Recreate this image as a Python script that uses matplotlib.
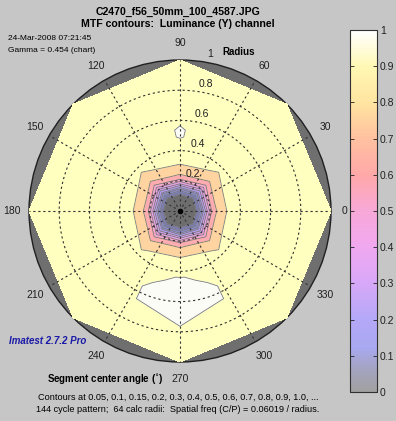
import numpy as np
import matplotlib
matplotlib.use('Agg')
import matplotlib.pyplot as plt
from matplotlib.colors import ListedColormap, BoundaryNorm, LinearSegmentedColormap, Normalize
from matplotlib.patches import Circle
import matplotlib.colorbar as mcolorbar

plt.rcParams['font.family'] = ['Liberation Sans', 'DejaVu Sans']

# segment center angles (deg) and calc radii
angles = [0, 45, 90, 135, 180, 225, 270, 315]
radii = [0, 0.08, 0.12, 0.14, 0.16, 0.18, 0.21, 0.25, 0.3, 0.35, 0.4,
         0.45, 0.5, 0.55, 0.6, 0.7, 0.8, 0.9, 1.0]

# MTF values, one row per angle, one column per radius
mtf = [
    [0.0, 0.02, 0.06, 0.12, 0.22, 0.40, 0.60, 0.72, 0.79, 0.84, 0.85, 0.86, 0.86, 0.87, 0.87, 0.86, 0.85, 0.85, 0.84],
    [0.0, 0.02, 0.05, 0.09, 0.15, 0.25, 0.45, 0.64, 0.75, 0.79, 0.83, 0.85, 0.86, 0.86, 0.86, 0.86, 0.85, 0.84, 0.84],
    [0.0, 0.02, 0.06, 0.12, 0.22, 0.40, 0.60, 0.72, 0.79, 0.84, 0.86, 0.895, 0.903, 0.904, 0.89, 0.87, 0.86, 0.85, 0.84],
    [0.0, 0.02, 0.05, 0.09, 0.15, 0.25, 0.45, 0.64, 0.75, 0.79, 0.83, 0.85, 0.86, 0.86, 0.86, 0.86, 0.85, 0.84, 0.84],
    [0.0, 0.02, 0.06, 0.12, 0.22, 0.40, 0.60, 0.72, 0.79, 0.84, 0.85, 0.86, 0.86, 0.87, 0.87, 0.86, 0.85, 0.85, 0.84],
    [0.0, 0.02, 0.05, 0.09, 0.15, 0.25, 0.45, 0.64, 0.75, 0.79, 0.83, 0.85, 0.85, 0.855, 0.865, 0.875, 0.86, 0.84, 0.84],
    [0.0, 0.02, 0.06, 0.12, 0.22, 0.40, 0.60, 0.72, 0.79, 0.85, 0.88, 0.905, 0.92, 0.94, 0.95, 0.935, 0.88, 0.86, 0.85],
    [0.0, 0.02, 0.05, 0.09, 0.15, 0.25, 0.45, 0.64, 0.75, 0.79, 0.83, 0.85, 0.85, 0.855, 0.865, 0.875, 0.86, 0.84, 0.84],
]

levels = [0, 0.05, 0.1, 0.15, 0.2, 0.3, 0.4, 0.5, 0.6, 0.7, 0.8, 0.9, 1.0]
band_colors = ['#6e6e6e', '#7c7ca8', '#8a8ad0', '#9c94e0', '#b09cf0', '#d0a0f0',
               '#e8a0e8', '#f8a8d0', '#ffacb0', '#ffd4a0', '#ffffc0', '#fcfcf6']

bar_ticks = [0, 0.1, 0.2, 0.3, 0.4, 0.5, 0.6, 0.7, 0.8, 0.9, 1]
bar_colors = [(0.0, '#a0a0a0'), (0.06, '#a4a4c0'), (0.12, '#a8a8f0'), (0.2, '#b4a8f8'),
              (0.3, '#d8a8f8'), (0.4, '#f0a8f0'), (0.5, '#f8a8d8'), (0.6, '#ffa8a8'),
              (0.7, '#ffc0a0'), (0.8, '#ffe4a0'), (0.9, '#fff8b4'), (1.0, '#ffffff')]

radius_ticks = [0.2, 0.4, 0.6, 0.8]
angle_labels = [0, 30, 60, 90, 120, 150, 180, 210, 240, 270, 300, 330]

W, H = 396, 421
fig = plt.figure(figsize=(W / 100, H / 100), dpi=100, facecolor='#c6c6c6')

# main polar-style plot on cartesian axes
cx, cy, R = 180, 211, 151
xl, yl = 1.19, 1.2
ax = fig.add_axes([(cx - xl * R) / W, (H - (cy + yl * R)) / H, 2 * xl * R / W, 2 * yl * R / H])
ax.set_xlim(-xl, xl)
ax.set_ylim(-yl, yl)
ax.axis('off')

ax.add_patch(Circle((0, 0), 1, facecolor='#6f6f6f', edgecolor='#202020', lw=1.0, zorder=1))

th = np.deg2rad(np.array(angles + [360]))
rr = np.array(radii)
T, RR = np.meshgrid(th, rr, indexing='ij')
Z = np.array(mtf + [mtf[0]])
X = RR * np.cos(T)
Y = RR * np.sin(T)
ax.contourf(X, Y, Z, levels=levels, cmap=ListedColormap(band_colors),
            norm=BoundaryNorm(levels, len(band_colors)), zorder=2)
ax.contour(X, Y, Z, levels=levels[1:-1], colors='#7a7a7a', linewidths=0.6, zorder=3)

# grid
t = np.linspace(0, 2 * np.pi, 400)
for r in radius_ticks:
    ax.plot(r * np.cos(t), r * np.sin(t), ls=(0, (2, 2.5)), color='#303030', lw=0.8, zorder=4)
for a in range(0, 360, 30):
    ax.plot([0, np.cos(np.deg2rad(a))], [0, np.sin(np.deg2rad(a))], ls=(0, (2, 2.5)),
            color='#303030', lw=0.8, zorder=4)
ax.plot([0], [0], 'o', color='black', ms=3, zorder=5)

for r in radius_ticks + [1]:
    lab = '1' if r == 1 else str(r)
    ax.text(0.06 + r * np.cos(np.deg2rad(82)), r * np.sin(np.deg2rad(82)) + 0.05, lab,
            ha='center', va='center', fontsize=7.5, color='#202020', zorder=6)
ax.text(0.39, 1.05, 'Radius', ha='center', va='center', fontsize=7, fontweight='bold')

for a in angle_labels:
    rl = 1.09 if a == 0 else 1.11
    ax.text(rl * np.cos(np.deg2rad(a)), 1.11 * np.sin(np.deg2rad(a)), str(a),
            ha='center', va='center', fontsize=7.5, color='#202020')
ax.text(-0.11, -1.11, 'Segment center angle ($^{\\circ}$)', ha='right', va='center',
        fontsize=7, fontweight='bold')

# text around the plot
fig.text(178 / W, 1 - 12 / H, 'C2470_f56_50mm_100_4587.JPG', ha='center', va='center',
         fontsize=7.6, fontweight='bold')
fig.text(178 / W, 1 - 24 / H, 'MTF contours:  Luminance (Y) channel', ha='center', va='center',
         fontsize=7.6, fontweight='bold')
fig.text(50 / W, 1 - 39 / H, '24-Mar-2008 07:21:45', ha='center', va='center', fontsize=6)
fig.text(52 / W, 1 - 50 / H, 'Gamma = 0.454 (chart)', ha='center', va='center', fontsize=6)
fig.text(9 / W, 1 - 341 / H, 'Imatest 2.7.2 Pro', ha='left', va='center', fontsize=7,
         fontweight='bold', style='italic', color='#1a1aa8')
fig.text(178 / W, 1 - 397 / H, 'Contours at 0.05, 0.1, 0.15, 0.2, 0.3, 0.4, 0.5, 0.6, 0.7, 0.8, 0.9, 1.0, ...',
         ha='center', va='center', fontsize=6.6)
fig.text(178 / W, 1 - 409 / H, '144 cycle pattern;  64 calc radii:  Spatial freq (C/P) = 0.06019 / radius.',
         ha='center', va='center', fontsize=6.6)

# colorbar
cax = fig.add_axes([350 / W, (H - 392) / H, 27 / W, 362 / H])
cmap = LinearSegmentedColormap.from_list('mtf', bar_colors)
cb = mcolorbar.ColorbarBase(cax, cmap=cmap, norm=Normalize(0, 1), ticks=bar_ticks)
cb.outline.set_edgecolor('#303030')
cb.outline.set_linewidth(0.8)
cax.tick_params(direction='in', length=3, width=0.6, labelsize=7.5, colors='#202020',
                left=True, right=True, pad=2)
cb.set_ticklabels(['0', '0.1', '0.2', '0.3', '0.4', '0.5', '0.6', '0.7', '0.8', '0.9', '1'])

fig.savefig('out.png', dpi=100, facecolor=fig.get_facecolor())
